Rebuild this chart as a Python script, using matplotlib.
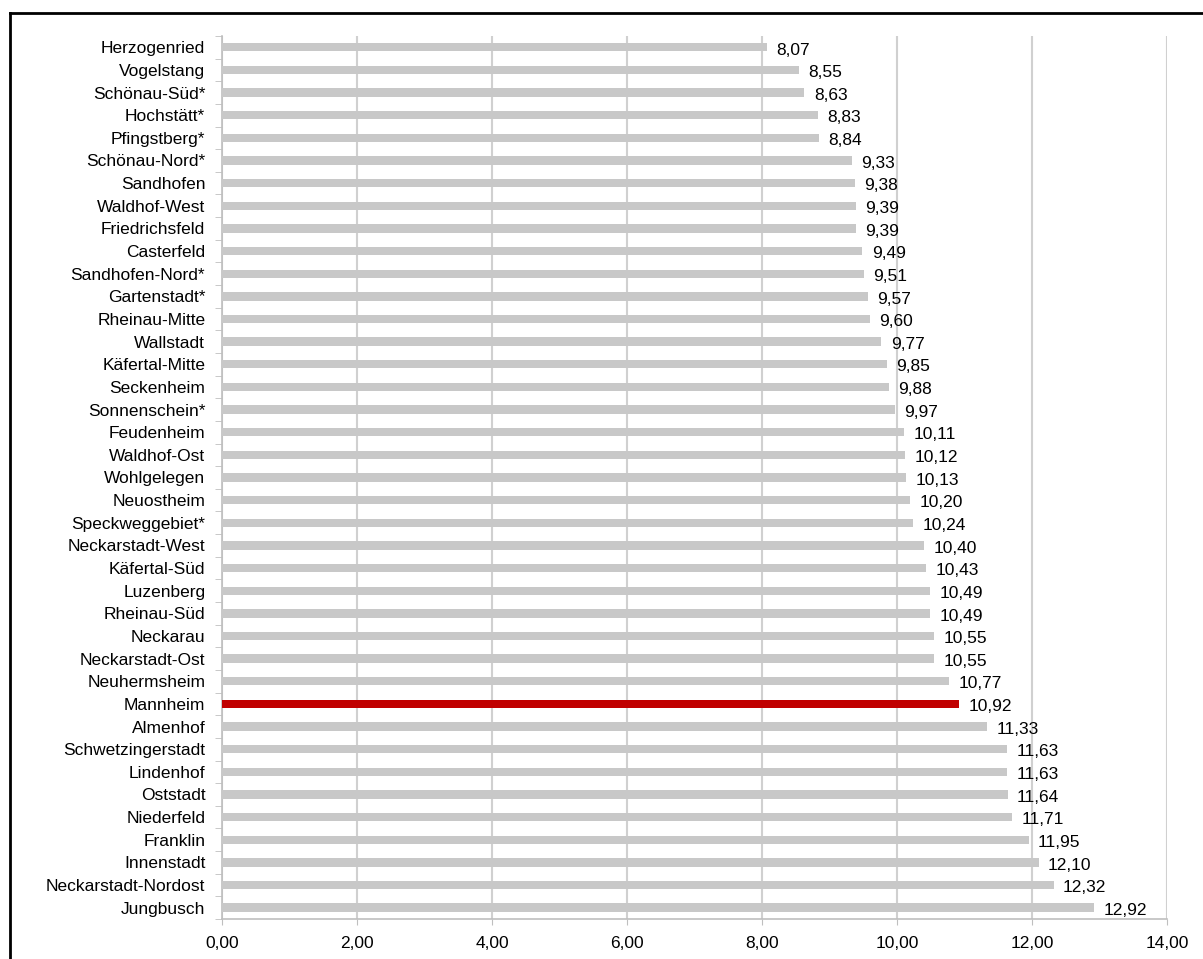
import matplotlib.pyplot as plt
from matplotlib.lines import Line2D

plt.rcParams['font.family'] = ['Liberation Sans', 'DejaVu Sans']

districts = ['Herzogenried', 'Vogelstang', 'Schönau-Süd*', 'Hochstätt*', 'Pfingstberg*',
             'Schönau-Nord*', 'Sandhofen', 'Waldhof-West', 'Friedrichsfeld', 'Casterfeld',
             'Sandhofen-Nord*', 'Gartenstadt*', 'Rheinau-Mitte', 'Wallstadt', 'Käfertal-Mitte',
             'Seckenheim', 'Sonnenschein*', 'Feudenheim', 'Waldhof-Ost', 'Wohlgelegen',
             'Neuostheim', 'Speckweggebiet*', 'Neckarstadt-West', 'Käfertal-Süd', 'Luzenberg',
             'Rheinau-Süd', 'Neckarau', 'Neckarstadt-Ost', 'Neuhermsheim', 'Mannheim',
             'Almenhof', 'Schwetzingerstadt', 'Lindenhof', 'Oststadt', 'Niederfeld',
             'Franklin', 'Innenstadt', 'Neckarstadt-Nordost', 'Jungbusch']
values = [8.07, 8.55, 8.63, 8.83, 8.84, 9.33, 9.38, 9.39, 9.39, 9.49,
          9.51, 9.57, 9.60, 9.77, 9.85, 9.88, 9.97, 10.11, 10.12, 10.13,
          10.20, 10.24, 10.40, 10.43, 10.49, 10.49, 10.55, 10.55, 10.77, 10.92,
          11.33, 11.63, 11.63, 11.64, 11.71, 11.95, 12.10, 12.32, 12.92]
highlight = 'Mannheim'
xticks = [0, 2, 4, 6, 8, 10, 12, 14]

fig = plt.figure(figsize=(12.03, 9.59), dpi=100)
ax = fig.add_axes([0.1845, 0.0417, 0.7855, 0.9208])

colors = ['#c00000' if d == highlight else '#c8c8c8' for d in districts]
ypos = list(range(len(districts)))
ax.barh(ypos, values, height=0.37, color=colors, zorder=3)

for y, v in zip(ypos, values):
    ax.text(v + 0.14, y + 0.12, '{:.2f}'.format(v).replace('.', ','),
            va='center', ha='left', fontsize=12.5, color='#000000', zorder=4)

ax.set_xlim(0, 14)
ax.set_ylim(len(districts) - 0.5, -0.5)
ax.set_xticks(xticks)
ax.set_xticklabels(['{:.2f}'.format(t).replace('.', ',') for t in xticks], fontsize=12.5)
ax.set_yticks(ypos)
ax.set_yticklabels(districts, fontsize=12.5)
ax.set_yticks([y - 0.5 for y in range(len(districts) + 1)], minor=True)

ax.tick_params(axis='y', which='major', length=0, pad=12)
ax.tick_params(axis='y', which='minor', length=5, color='#bfbfbf', direction='out')
ax.tick_params(axis='x', length=4, color='#bfbfbf', pad=8)

ax.grid(axis='x', color='#d0d0d0', linewidth=1.5, zorder=0)
for s in ['top', 'right']:
    ax.spines[s].set_visible(False)
ax.spines['left'].set_color('#bfbfbf')
ax.spines['bottom'].set_color('#bfbfbf')
ax.spines['left'].set_linewidth(1.2)
ax.spines['bottom'].set_linewidth(1.2)

# frame of the exported chart (only top and left edges visible)
fig.add_artist(Line2D([10 / 1203, 1.0], [1 - 13 / 959, 1 - 13 / 959], color='black', linewidth=2))
fig.add_artist(Line2D([10 / 1203, 10 / 1203], [0.0, 1 - 13 / 959], color='black', linewidth=2))

fig.savefig('out.png', dpi=100)
